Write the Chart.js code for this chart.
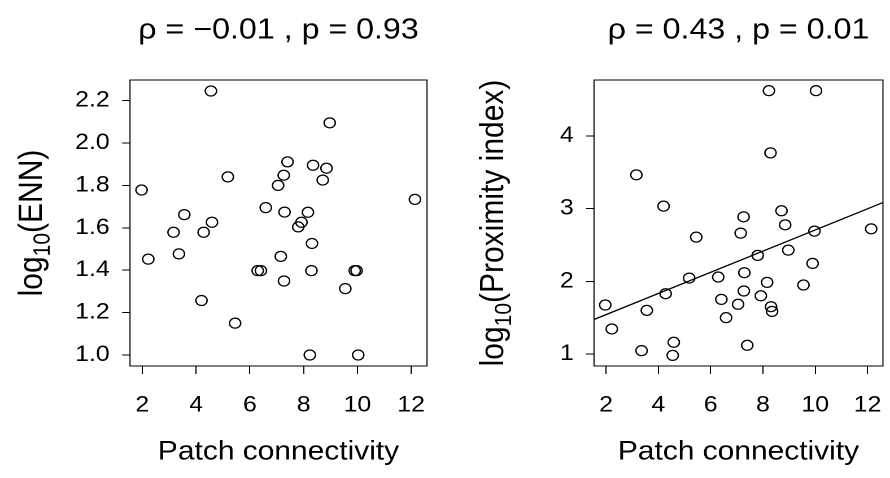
<!DOCTYPE html>
<html>
<head>
<meta charset="utf-8">
<script src="https://cdn.jsdelivr.net/npm/chart.js@4.4.1/dist/chart.umd.min.js"></script>
<style>
  html, body { margin: 0; padding: 0; background: #fff; }
  #wrap { position: relative; width: 890px; height: 478px; overflow: hidden; background: #fff; }
  #wrap canvas { position: absolute; top: 0; }
</style>
</head>
<body>
<div id="wrap">
  <canvas id="ennChart" width="394" height="478" style="left:0px;width:445px;height:478px"></canvas>
  <canvas id="proxChart" width="394" height="478" style="left:445px;width:445px;height:478px"></canvas>
</div>
<script>
// Patch connectivity of each patch (shared x values of both panels)
const connectivity = [1.97, 2.22, 3.16, 3.36, 3.56, 4.20, 4.28, 4.55, 4.59, 5.18,
                      5.45, 6.29, 6.41, 6.59, 7.05, 7.15, 7.26, 7.27, 7.29, 7.40,
                      7.80, 7.92, 8.16, 8.23, 8.29, 8.31, 8.35, 8.71, 8.85, 8.97,
                      9.55, 9.90, 9.97, 10.03, 12.14];
// log10 of Euclidean nearest-neighbour distance
const logEnn = [1.778, 1.452, 1.579, 1.477, 1.662, 1.257, 1.579, 2.245, 1.626, 1.840,
                1.150, 1.398, 1.398, 1.695, 1.800, 1.465, 1.848, 1.349, 1.674, 1.911,
                1.604, 1.626, 1.673, 1.000, 1.398, 1.526, 1.895, 1.825, 1.881, 2.095,
                1.313, 1.398, 1.398, 1.000, 1.734];
// log10 of proximity index
const logProx = [1.673, 1.344, 3.465, 1.046, 1.600, 3.034, 1.829, 0.980, 1.160, 2.044,
                 2.608, 2.058, 1.751, 1.499, 1.683, 2.663, 2.887, 1.866, 2.118, 1.119,
                 2.356, 1.800, 1.985, 4.623, 3.767, 1.650, 1.586, 2.970, 2.777, 2.429,
                 1.948, 2.246, 2.690, 4.623, 2.722];

// Axis ticks
const xTicks = [2, 4, 6, 8, 10, 12];
const ennTicks = [1.0, 1.2, 1.4, 1.6, 1.8, 2.0, 2.2];
const proxTicks = [1, 2, 3, 4];

// Linear fit of log10(proximity) on connectivity
const fitIntercept = 1.25;
const fitSlope = 0.1456;

// Panel headings
const ennTitle = 'ρ = −0.01 , p = 0.93';
const proxTitle = 'ρ = 0.43 , p = 0.01';
const xTitle = 'Patch connectivity';

// Axis extents (data range plus 4 % margin on each side)
const X_MIN = 1.54, X_MAX = 12.59;

const FONT = '"Liberation Sans", Arial, Helvetica, sans-serif';
// Each canvas is drawn 394 px wide and displayed 445 px wide
const STRETCH = 445 / 394;
const toInner = v => v / STRETCH;

const panelDecor = {
  id: 'panelDecor',
  afterDraw(chart, args, o) {
    const { ctx, chartArea: a } = chart;
    const cx = (a.left + a.right) / 2;
    ctx.save();
    ctx.strokeStyle = '#000';
    ctx.lineWidth = 1;
    ctx.strokeRect(a.left, a.top, a.right - a.left, a.bottom - a.top);

    ctx.fillStyle = '#000';
    ctx.textAlign = 'center';
    ctx.textBaseline = 'alphabetic';
    ctx.font = '28.5px ' + FONT;
    ctx.fillText(o.title, cx, 38.5);

    ctx.font = '26.5px ' + FONT;
    ctx.fillText(o.xTitle, cx, 459.5);

    // rotated y title: log with subscript 10, then the bracketed name
    const parts = [
      { t: 'log', size: 30, dy: 0 },
      { t: '10', size: 21, dy: 7 },
      { t: '(' + o.yName + ')', size: 30, dy: 0 }
    ];
    let total = 0;
    parts.forEach(p => { ctx.font = p.size + 'px ' + FONT; p.w = ctx.measureText(p.t).width; total += p.w; });
    ctx.translate(o.yTitleX, (a.top + a.bottom) / 2);
    ctx.rotate(-Math.PI / 2);
    ctx.textAlign = 'left';
    let x = -total / 2;
    parts.forEach(p => {
      ctx.font = p.size + 'px ' + FONT;
      ctx.fillText(p.t, x, p.dy);
      x += p.w;
    });
    ctx.restore();
  }
};

function makePanel(id, yValues, yMin, yMax, yTicks, yFmt, opts) {
  const points = connectivity.map((c, i) => ({ x: c, y: yValues[i] }));
  const datasets = [{
    data: points,
    showLine: false,
    pointStyle: 'circle',
    pointRadius: 5,
    pointBorderWidth: 1.25,
    pointBorderColor: '#000',
    pointBackgroundColor: 'rgba(0,0,0,0)'
  }];
  if (opts.fit) {
    datasets.push({
      data: [X_MIN, X_MAX].map(v => ({ x: v, y: fitIntercept + fitSlope * v })),
      showLine: true,
      borderColor: '#000',
      borderWidth: 1.3,
      pointRadius: 0,
      fill: false
    });
  }
  const tickFont = { family: FONT, size: 22 };
  return new Chart(document.getElementById(id), {
    type: 'scatter',
    data: { datasets },
    plugins: [panelDecor],
    options: {
      responsive: false,
      devicePixelRatio: 2,
      animation: false,
      events: [],
      layout: { padding: { top: 80, bottom: 0, left: 0, right: 394 - toInner(opts.plotRight) } },
      plugins: {
        legend: { display: false },
        tooltip: { enabled: false },
        panelDecor: { title: opts.title, xTitle: xTitle, yName: opts.yName, yTitleX: toInner(opts.yTitleX) }
      },
      scales: {
        x: {
          type: 'linear',
          min: X_MIN,
          max: X_MAX,
          afterBuildTicks: s => { s.ticks = xTicks.map(v => ({ value: v })); },
          afterFit: s => { s.height = 112; s.paddingLeft = 0; s.paddingRight = 0; },
          border: { display: false },
          grid: { drawOnChartArea: false, drawTicks: true, tickLength: 8, color: '#000', lineWidth: 1 },
          ticks: { padding: 18, color: '#000', font: tickFont, maxRotation: 0, autoSkip: false,
                   callback: v => String(v) }
        },
        y: {
          type: 'linear',
          min: yMin,
          max: yMax,
          afterBuildTicks: s => { s.ticks = yTicks.map(v => ({ value: v })); },
          afterFit: s => { s.width = toInner(opts.plotLeft); s.paddingTop = 0; s.paddingBottom = 0; },
          border: { display: false },
          grid: { drawOnChartArea: false, drawTicks: true, tickLength: 7, color: '#000', lineWidth: 1 },
          ticks: { padding: 11, color: '#000', font: tickFont, autoSkip: false, callback: yFmt }
        }
      }
    }
  });
}

makePanel('ennChart', logEnn, 0.948, 2.297, ennTicks, v => v.toFixed(1), {
  title: ennTitle, yName: 'ENN', plotLeft: 130, plotRight: 427, yTitleX: 42, fit: false
});
makePanel('proxChart', logProx, 0.834, 4.77, proxTicks, v => String(v), {
  title: proxTitle, yName: 'Proximity index', plotLeft: 149, plotRight: 443, yTitleX: 58, fit: true
});
</script>
</body>
</html>
